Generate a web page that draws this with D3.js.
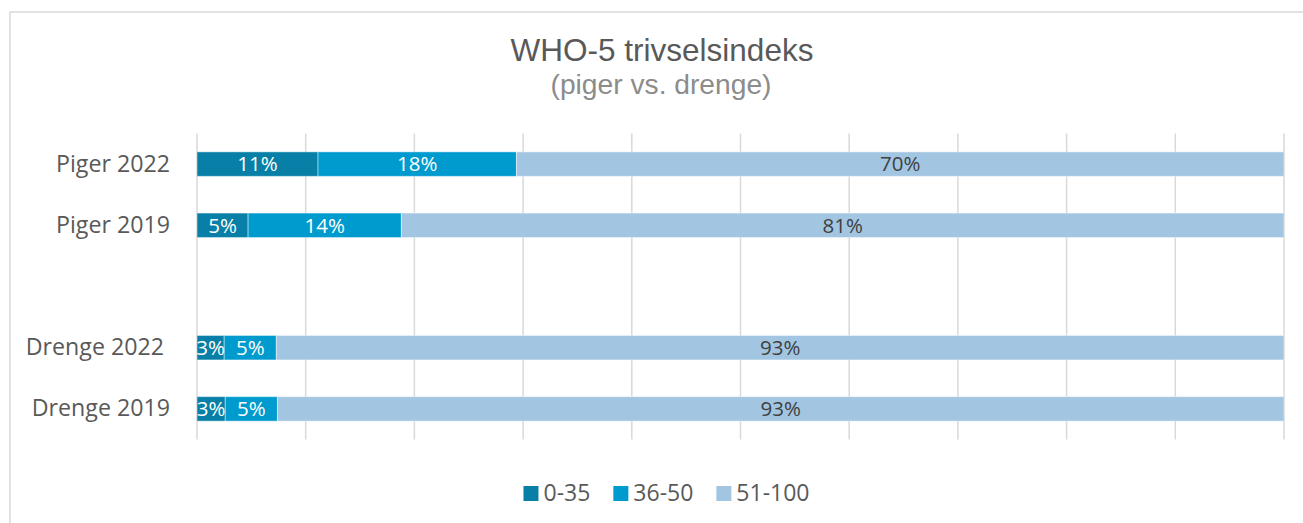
<!DOCTYPE html>
<html>
<head>
<meta charset="utf-8">
<script src="https://cdn.jsdelivr.net/npm/d3@7"></script>
<style>
  html, body { margin: 0; padding: 0; background: #fff; }
  svg { display: block; }
</style>
</head>
<body>
<svg id="chart" width="1303" height="523"></svg>
<script>
// ---- data ----
const categories = ["Piger 2022", "Piger 2019", "", "Drenge 2022\u00A0", "Drenge 2019"];
const seriesNames = ["0-35", "36-50", "51-100"];
const v0_35   = [11.1, 4.7, 0, 2.5, 2.6];
const v36_50  = [18.2, 14.1, 0, 4.8, 4.8];
const v51_100 = [70.4, 81.2, 0, 92.7, 92.6];
const titleText = "WHO-5 trivselsindeks";
const subtitleText = "(piger vs. drenge)";

// ---- styles ----
const colors = ["#087fa6", "#009bce", "#a2c6e2"];
const labelColors = ["#ffffff", "#ffffff", "#404040"];
const font = "'Open Sans', sans-serif";

const W = 1303, H = 523;
const margin = { left: 197, right: 19, top: 133.5, bottom: 83.5 };

const svg = d3.select("#chart");

// frame
svg.append("rect")
  .attr("x", 10).attr("y", 12)
  .attr("width", W).attr("height", H)
  .attr("fill", "#fff").attr("stroke", "#d9d9d9").attr("stroke-width", 1.5);

// title
svg.append("text")
  .attr("x", 662).attr("y", 61)
  .attr("text-anchor", "middle")
  .attr("font-family", "'Liberation Sans', Arial, sans-serif")
  .attr("font-size", 31.5)
  .attr("fill", "#595959")
  .text(titleText);
svg.append("text")
  .attr("x", 661).attr("y", 94)
  .attr("text-anchor", "middle")
  .attr("font-family", "'Liberation Sans', Arial, sans-serif")
  .attr("font-size", 28.2)
  .attr("fill", "#8c8c8c")
  .text(subtitleText);

// table
const rows = categories.map((c, i) => ({
  cat: c, "0-35": v0_35[i], "36-50": v36_50[i], "51-100": v51_100[i]
}));
const stacked = d3.stack().keys(seriesNames).offset(d3.stackOffsetExpand)(rows);

const x = d3.scaleLinear().domain([0, 1]).range([margin.left, W - margin.right]);
const y = d3.scaleBand().domain(categories)
  .range([margin.top, H - margin.bottom])
  .paddingInner(0.6).paddingOuter(0.3);

// gridlines
svg.append("g").selectAll("line")
  .data(x.ticks(10))
  .join("line")
  .attr("x1", d => x(d)).attr("x2", d => x(d))
  .attr("y1", margin.top).attr("y2", H - margin.bottom)
  .attr("stroke", "#d9d9d9").attr("stroke-width", 1.5);

// clip
svg.append("clipPath").attr("id", "plotclip")
  .append("rect")
  .attr("x", margin.left).attr("y", margin.top)
  .attr("width", x(1) - margin.left)
  .attr("height", H - margin.bottom - margin.top);

const plot = svg.append("g").attr("clip-path", "url(#plotclip)");

const valid = d => (d[1] - d[0]) > 0 && isFinite(d[0]) && isFinite(d[1]);

// bars
stacked.forEach((s, si) => {
  plot.append("g").selectAll("rect")
    .data(s.filter(valid))
    .join("rect")
    .attr("x", d => x(d[0]))
    .attr("y", d => y(d.data.cat))
    .attr("width", d => x(d[1]) - x(d[0]))
    .attr("height", y.bandwidth())
    .attr("fill", colors[si])
    .attr("stroke", "#ffffff").attr("stroke-opacity", 0.45).attr("stroke-width", 1);
});

// data labels
stacked.forEach((s, si) => {
  plot.append("g").selectAll("text")
    .data(s.filter(valid))
    .join("text")
    .attr("x", d => (x(d[0]) + x(d[1])) / 2)
    .attr("y", d => y(d.data.cat) + y.bandwidth() / 2)
    .attr("dy", "0.36em")
    .attr("text-anchor", "middle")
    .attr("font-family", font)
    .attr("font-size", 20.5)
    .attr("fill", labelColors[si])
    .text(d => Math.round(d.data[s.key]) + "%");
});

// category axis labels
const yAxis = d3.axisLeft(y).tickSize(0).tickPadding(27);
const gy = svg.append("g").attr("transform", `translate(${margin.left},0)`).call(yAxis);
gy.select(".domain").remove();
gy.selectAll("text")
  .attr("font-family", font)
  .attr("font-size", 23.2)
  .attr("fill", "#595959")
  .style("white-space", "pre");

// legend
const legend = svg.append("g");
let cx = 0;
const items = [];
seriesNames.forEach((name, i) => {
  const g = legend.append("g");
  g.append("rect").attr("x", 0).attr("y", -15).attr("width", 15).attr("height", 15)
    .attr("fill", colors[i]);
  const t = g.append("text").attr("x", 20).attr("y", 0)
    .attr("font-family", font).attr("font-size", 23).attr("fill", "#595959")
    .text(name);
  const w = 20 + t.node().getComputedTextLength();
  items.push({ g, x: cx });
  cx += w + 23;
});
const totalW = cx - 23;
const startX = 666.5 - totalW / 2;
items.forEach(it => it.g.attr("transform", `translate(${startX + it.x},501)`));
</script>
</body>
</html>
